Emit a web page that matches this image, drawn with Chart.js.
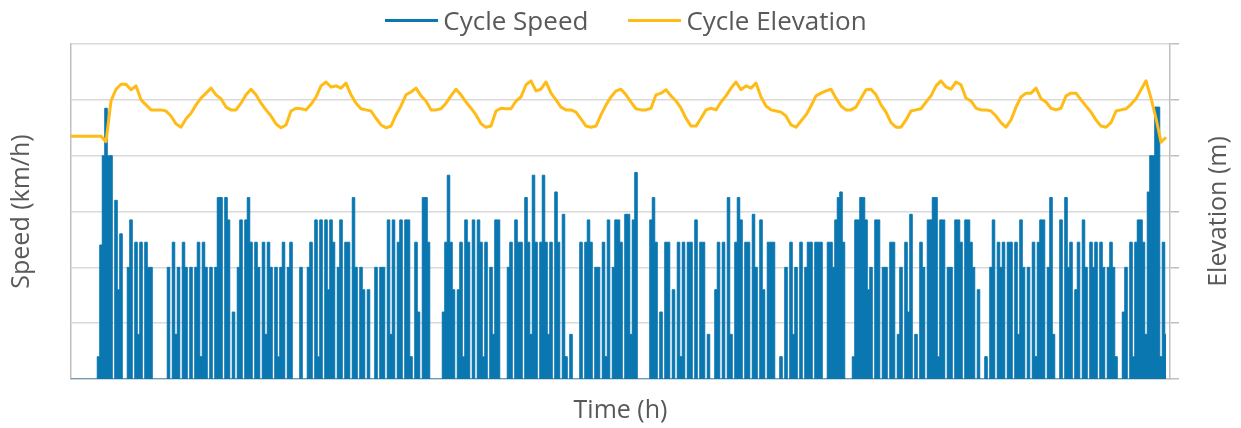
<!DOCTYPE html>
<html>
<head>
<meta charset="utf-8">
<title>Cycle Speed and Elevation</title>
<script src="https://cdn.jsdelivr.net/npm/chart.js@4.4.1/dist/chart.umd.min.js"></script>
<style>
  body { margin: 0; background: #fff; }
  #wrap { position: relative; width: 1241px; height: 428px; }
  #legend {
    position: absolute; top: 0; left: 0; width: 1252px; height: 40px;
    display: flex; justify-content: center; align-items: center; gap: 40px;
    font: 26px "Open Sans", sans-serif; color: #595959;
  }
  .item { display: flex; align-items: center; }
  .swatch { width: 53px; height: 3px; margin-right: 5px; }
</style>
</head>
<body>
<div id="wrap">
  <canvas id="chart" width="1241" height="428"></canvas>
  <div id="legend"></div>
</div>
<script>
// sampling steps (hours)
const SPEED_DT = 0.005;
const ELEV_DT = 0.01;
const X_MAX = 2.198;

// speed in km/h, one value per SPEED_DT
const speed = [
  0,0,0,0,0,0,0,0,0,0,0,4,24,40,48.5,40,40,0,32,16,
  26,0,0,20,28.5,0,24.5,8,24.5,0,24.5,20,20,0,0,0,0,0,0,20,
  0,24.5,8,20,0,24.5,20,0,20,0,20,24.5,4,24.5,20,0,20,0,20,32.5,
  32.5,0,32.5,28.5,0,12,0,20,28.5,0,28.5,32.5,24.5,0,24.5,20,0,24.5,8,24.5,
  20,0,20,4,20,24.5,0,20,24.5,0,0,0,20,0,0,20,24.5,0,28.5,4,
  28.5,0,28.5,16,28.5,24.5,0,20,28.5,0,24.5,24.5,0,32.5,20,0,20,16,0,16,
  0,0,20,0,20,20,0,28.5,8,28.5,0,24.5,28.5,0,28.5,28.5,4,0,24.5,12,
  0,32.5,32.5,24.5,0,0,0,0,0,12,24.5,36.5,24.5,16,0,16,24.5,4,28.5,24.5,
  0,28.5,0,28.5,24.5,4,24.5,0,20,8,28.5,28.5,0,0,0,20,24.5,0,28.5,24.5,
  24.5,0,32.5,24.5,8,36.5,24.5,0,24.5,36.5,24.5,8,24.5,0,33.5,24.5,0,29.5,4,0,
  8,0,0,0,24.5,0,24.5,28.5,24.5,0,20,20,0,24.5,4,28.5,0,20,28.5,28.5,
  24.5,0,29.5,29.5,8,28.5,37,0,0,0,0,0,28.5,32.5,24.5,0,12,0,24.5,24.5,
  0,16,0,24.5,4,24.5,0,24.5,24.5,0,28.5,0,24.5,24.5,0,8,0,0,16,24.5,
  0,24.5,0,32.5,8,0,24.5,32.5,28.5,0,24.5,24.5,0,29.5,20,0,28.5,16,0,24.5,
  24.5,24.5,0,0,4,0,20,0,24.5,8,20,0,24.5,0,20,24.5,24.5,0,24.5,24.5,
  24.5,0,0,24.5,24.5,20,28.5,32.5,33.5,24.5,0,0,0,4,28.5,28.5,32.5,32.5,28.5,16,
  20,0,28.5,28.5,0,20,20,0,24.5,24.5,0,8,20,0,24.5,12,29.5,0,8,0,
  24.5,20,0,28.5,28.5,32.5,32.5,4,28.5,28.5,0,20,20,0,28.5,28.5,24.5,0,28.5,28.5,
  24.5,20,0,16,0,0,4,0,20,28.5,0,24.5,20,24.5,0,24.5,24.5,0,24.5,8,
  28.5,20,0,20,0,24.5,4,24.5,28.5,28.5,0,20,32.5,8,0,0,28.5,0,32.5,20,
  24.5,0,16,24.5,0,28.5,20,0,24.5,20,24.5,0,24.5,20,0,20,24.5,20,4,0,
  0,12,20,0,24.5,4,24.5,28.5,28.5,24.5,8,33.5,40,40,48.7,48.7,4,24.5,8
];

// elevation in m, one value per ELEV_DT
const elevation = [
  43.5,43.5,43.5,43.5,43.5,43.5,43.5,42.5,49.8,51.9,
  52.8,52.8,51.8,52.5,50.0,49.1,48.2,48.2,48.2,48.0,
  47.1,45.7,45.1,46.6,47.6,49.1,50.3,51.2,52.1,50.9,
  50.2,48.7,48.2,48.2,49.4,50.9,51.9,50.9,49.4,48.2,
  47.1,45.7,45.0,45.5,48.0,48.5,48.4,48.2,49.2,50.5,
  52.5,53.2,52.3,52.5,52.1,53.0,50.9,49.4,48.4,48.2,
  48.0,46.7,45.5,45.0,45.3,47.3,48.9,50.9,51.4,52.1,
  50.7,49.8,48.2,48.2,48.4,49.4,50.7,51.9,50.9,49.6,
  48.5,47.3,45.7,45.1,45.3,48.0,48.5,48.4,48.4,49.8,
  50.5,52.7,53.4,51.6,51.9,53.2,51.2,50.0,48.7,48.2,
  48.2,47.8,46.6,45.3,45.1,45.3,47.3,49.1,50.5,51.6,
  51.9,50.9,49.6,48.4,48.2,48.2,48.5,50.9,51.2,51.8,
  50.7,49.8,48.5,46.7,45.3,45.3,46.7,48.2,48.5,48.2,
  49.6,50.7,52.1,53.2,51.8,52.5,52.1,53.0,50.5,48.9,
  48.2,48.0,47.8,47.1,45.5,45.1,46.2,47.3,48.9,50.7,
  51.2,51.6,51.9,50.3,48.9,48.2,48.2,48.7,50.3,51.8,
  51.9,50.9,49.1,47.8,45.9,45.1,45.1,46.4,48.0,48.2,
  48.4,49.6,50.7,52.5,53.4,52.3,51.9,53.2,52.7,50.3,
  49.8,48.5,48.2,48.2,48.0,47.1,45.9,45.1,46.4,48.7,
  50.5,51.2,51.2,52.1,50.2,49.6,48.5,48.2,48.5,50.7,
  51.2,51.2,50.0,48.9,47.8,46.4,45.3,45.1,45.9,48.0,
  48.2,48.4,49.2,50.2,51.8,53.4,50.3,46.7,42.4,43.3
];

const BLUE = '#0A77B1';
const YELLOW = '#FFBB16';
const TEXT = '#595959';
const GRID = '#d9d9d9';
const AXIS = '#bfbfbf';
const FAMILY = '"Open Sans", sans-serif';

const speedPoints = speed.map((v, i) => ({ x: i * SPEED_DT, y: v }));
const elevPoints = elevation.map((v, i) => ({ x: i * ELEV_DT, y: v }));

// right axis title reads bottom-to-top like the left one
const rightTitle = {
  id: 'rightTitle',
  afterDraw(chart) {
    const { ctx, chartArea } = chart;
    ctx.save();
    ctx.translate(chartArea.right + 49, (chartArea.top + chartArea.bottom) / 2);
    ctx.rotate(-Math.PI / 2);
    ctx.font = '25px ' + FAMILY;
    ctx.fillStyle = TEXT;
    ctx.textAlign = 'center';
    ctx.textBaseline = 'middle';
    ctx.fillText('Elevation (m)', 0, 0);
    ctx.restore();
  }
};

const chart = new Chart(document.getElementById('chart'), {
  type: 'line',
  data: {
    datasets: [
      {
        label: 'Cycle Speed',
        data: speedPoints,
        yAxisID: 'y',
        borderColor: BLUE,
        backgroundColor: BLUE,
        borderWidth: 1,
        stepped: 'middle',
        fill: 'origin',
        pointRadius: 0,
        order: 1
      },
      {
        label: 'Cycle Elevation',
        data: elevPoints,
        yAxisID: 'y2',
        borderColor: YELLOW,
        backgroundColor: YELLOW,
        borderWidth: 3,
        borderJoinStyle: 'round',
        pointRadius: 0,
        tension: 0,
        order: 0
      }
    ]
  },
  options: {
    responsive: false,
    animation: false,
    layout: { padding: { top: 44, left: 0, right: 0, bottom: 0 } },
    plugins: {
      legend: { display: false },
      tooltip: { enabled: false },
      filler: { propagate: false }
    },
    scales: {
      x: {
        type: 'linear',
        min: 0,
        max: X_MAX,
        grid: { display: false },
        ticks: { display: false },
        border: { color: AXIS, width: 1.5 },
        title: {
          display: true, text: 'Time (h)', color: TEXT,
          font: { family: FAMILY, size: 25 },
          padding: { top: 0, bottom: 2 }
        },
        afterFit: s => { s.height = 49; }
      },
      y: {
        position: 'left',
        min: 0,
        max: 60,
        ticks: { display: false, stepSize: 10 },
        grid: { color: GRID, lineWidth: 1.5, drawTicks: false },
        border: { color: AXIS, width: 1.5 },
        title: {
          display: true, text: 'Speed (km/h)', color: TEXT,
          font: { family: FAMILY, size: 25 },
          padding: { top: 7, bottom: 0 }
        },
        afterFit: s => { s.width = 71; }
      },
      y2: {
        position: 'right',
        min: 0,
        max: 60,
        ticks: { display: false, stepSize: 10 },
        grid: { drawOnChartArea: false, color: AXIS, lineWidth: 1.5, tickLength: 9 },
        border: { color: AXIS, width: 1.5 },
        afterFit: s => { s.width = 71; }
      }
    }
  },
  plugins: [rightTitle]
});

// html legend from the datasets
const legend = document.getElementById('legend');
chart.data.datasets.forEach(ds => {
  const item = document.createElement('div');
  item.className = 'item';
  const sw = document.createElement('span');
  sw.className = 'swatch';
  sw.style.background = ds.borderColor;
  const label = document.createElement('span');
  label.textContent = ds.label;
  item.appendChild(sw);
  item.appendChild(label);
  legend.appendChild(item);
});
</script>
</body>
</html>
